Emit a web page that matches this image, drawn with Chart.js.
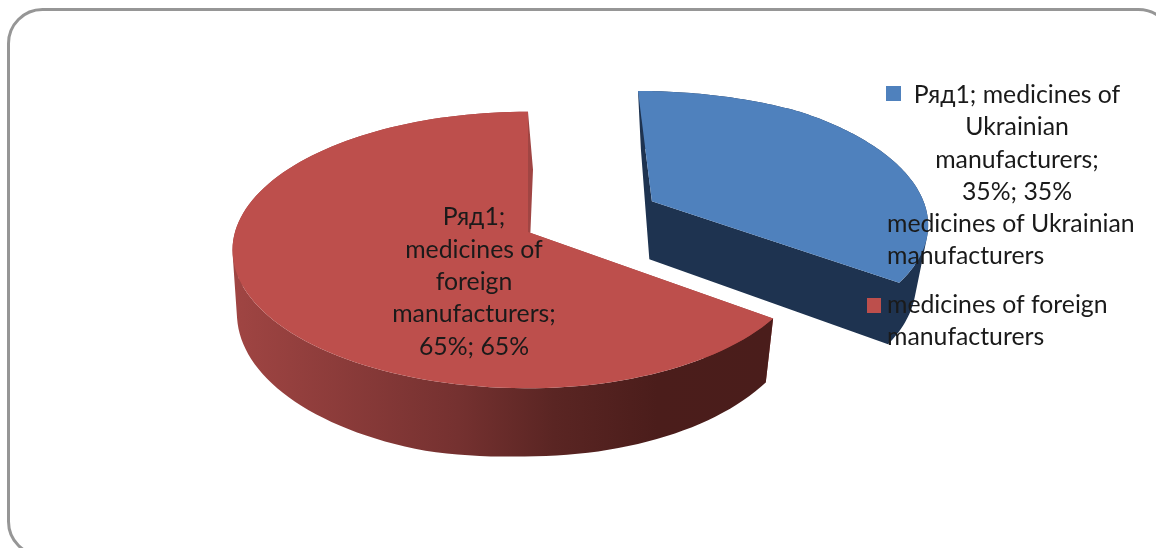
<!DOCTYPE html>
<html>
<head>
<meta charset="utf-8">
<script src="https://cdn.jsdelivr.net/npm/chart.js@4"></script>
<style>
  html, body { margin: 0; padding: 0; background: #fff; overflow: hidden; }
  canvas { display: block; }
</style>
</head>
<body>
<canvas id="myChart" width="1156" height="548"></canvas>
<script>
  // values
  var seriesName = 'Ряд1';
  var categories = ['medicines of Ukrainian manufacturers', 'medicines of foreign manufacturers'];
  var values = [35, 65];

  // how the office chart wraps its texts
  var blueLabelLines = [seriesName + '; medicines of', 'Ukrainian', 'manufacturers;', values[0] + '%; ' + values[0] + '%'];
  var redLabelLines = [seriesName + ';', 'medicines of', 'foreign', 'manufacturers;', values[1] + '%; ' + values[1] + '%'];
  var legendLines = [['medicines of Ukrainian', 'manufacturers'], ['medicines of foreign', 'manufacturers']];

  var BLUE = '#4f81bd', RED = '#bd4f4c', BLUE_SIDE = '#1e3350';
  var FONT = '24.8px Lato, sans-serif';
  var TEXT = '#1a1a1a';

  // fake 3d camera: world point on the disc -> screen
  var CX = 528, CY = 232, R = 293;
  function project(u, v, z) {
    var s = 1 / (1 - 0.13 * v / R);
    var x = u * (u > 0 ? 0.955 : 1) * s * (1 - (u > 0 ? 0.03 : 0.015) * z);
    x += z * 5 * Math.max(0, -v / R);
    var depth = 58 + 10 * Math.max(0, v / R) + 4 * Math.min(1, Math.max(0, -u * 3 / R));
    var y = 0.464 * v * s + Math.max(0, -v - R) * 0.05;
    return { x: CX + x, y: CY + y + depth * z };
  }

  function sliceGeometry(el) {
    var mid = (el.startAngle + el.endAngle) / 2;
    var off = el.options.offset || 0;
    return { ox: off * Math.cos(mid), oy: off * Math.sin(mid), start: el.startAngle, end: el.endAngle };
  }

  function rimPoint(g, a, z) {
    return project(g.ox + R * Math.cos(a), g.oy + R * Math.sin(a), z);
  }

  function signedArea(pts) {
    var sum = 0;
    pts.forEach(function (p, i) {
      var q = pts[(i + 1) % pts.length];
      sum += p.x * q.y - q.x * p.y;
    });
    return sum;
  }

  // all polygons go in one path with the same winding, so neighbouring quads leave no seams
  function fillPolys(ctx, polys, fill) {
    ctx.beginPath();
    polys.forEach(function (poly) {
      var pts = signedArea(poly) < 0 ? poly.slice().reverse() : poly;
      pts.forEach(function (p, i) { i ? ctx.lineTo(p.x, p.y) : ctx.moveTo(p.x, p.y); });
      ctx.closePath();
    });
    ctx.fillStyle = fill;
    ctx.fill();
  }

  function drawSlice(ctx, el, color, outerFill, cutFill) {
    var g = sliceGeometry(el), n = 120, upper = [], back = [], front = [];
    var apexTop = project(g.ox, g.oy, 0), apexLow = project(g.ox, g.oy, 1);
    // outer wall in thin quads, the back half only shows as a sliver
    for (var i = 0; i < n; i++) {
      var a0 = g.start + (g.end - g.start) * i / n;
      var a1 = g.start + (g.end - g.start) * (i + 1) / n;
      var quad = [rimPoint(g, a0, 0), rimPoint(g, a1, 0), rimPoint(g, a1, 1), rimPoint(g, a0, 1)];
      (Math.sin((a0 + a1) / 2) < 0 ? back : front).push(quad);
    }
    var cuts = [g.start, g.end].map(function (a) {
      return [apexTop, rimPoint(g, a, 0), rimPoint(g, a, 1), apexLow];
    });
    fillPolys(ctx, outerFill === cutFill ? cuts.concat(back, front) : cuts.concat(back), cutFill);
    if (outerFill !== cutFill) fillPolys(ctx, front, outerFill);
    for (var j = 0; j <= n; j++) {
      upper.push(rimPoint(g, g.start + (g.end - g.start) * j / n, 0));
    }
    fillPolys(ctx, [[apexTop].concat(upper)], color);
  }

  var pie3d = {
    id: 'pie3d',
    beforeDraw: function (chart) {
      var ctx = chart.ctx;
      ctx.save();
      ctx.strokeStyle = '#969696';
      ctx.lineWidth = 3;
      ctx.beginPath();
      ctx.roundRect(8.5, 9.5, 1164, 546, 34);
      ctx.stroke();
      ctx.restore();
    },
    beforeDatasetsDraw: function (chart) {
      var ctx = chart.ctx, els = chart.getDatasetMeta(0).data;
      var grad = ctx.createLinearGradient(232, 0, 770, 0);
      grad.addColorStop(0, '#a04543');
      grad.addColorStop(0.42, '#753130');
      grad.addColorStop(0.6, '#5a2523');
      grad.addColorStop(0.79, '#4b1d1b');
      grad.addColorStop(1, '#4a1d1b');
      ctx.save();
      drawSlice(ctx, els[0], BLUE, BLUE_SIDE, BLUE_SIDE);
      drawSlice(ctx, els[1], RED, grad, '#a04543');
      ctx.restore();
      return false;
    },
    afterDraw: function (chart) {
      var ctx = chart.ctx;
      ctx.save();
      ctx.font = FONT;
      ctx.fillStyle = TEXT;
      ctx.textBaseline = 'alphabetic';

      ctx.textAlign = 'center';
      redLabelLines.forEach(function (t, i) { ctx.fillText(t, 474, [225, 258, 290, 322, 355][i]); });
      blueLabelLines.forEach(function (t, i) {
        ctx.fillText(t, 1017, [103, 135, 168, 200][i]);
      });

      ctx.textAlign = 'left';
      legendLines[0].forEach(function (t, i) { ctx.fillText(t, 887, 232 + i * 32); });
      legendLines[1].forEach(function (t, i) { ctx.fillText(t, 887, 313 + i * 32); });

      ctx.fillStyle = BLUE;
      ctx.fillRect(886, 86, 15, 15);
      ctx.fillStyle = RED;
      ctx.fillRect(867, 298, 14, 15);
      ctx.restore();
    }
  };

  new Chart(document.getElementById('myChart'), {
    type: 'pie',
    data: {
      labels: categories,
      datasets: [{
        label: seriesName,
        data: values,
        backgroundColor: [BLUE, RED],
        offset: [150, 0]
      }]
    },
    options: {
      responsive: false,
      animation: false,
      plugins: { legend: { display: false }, tooltip: { enabled: false } }
    },
    plugins: [pie3d]
  });
</script>
</body>
</html>
